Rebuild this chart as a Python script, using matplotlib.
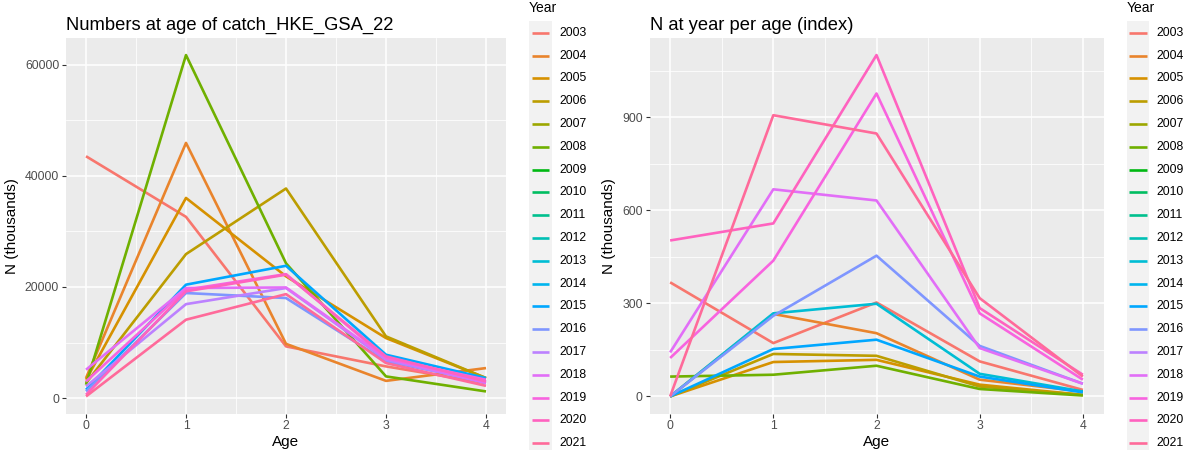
import numpy as np
import matplotlib
matplotlib.use("Agg")
import matplotlib.pyplot as plt
from matplotlib.patches import Rectangle
from matplotlib.ticker import MultipleLocator

plt.rcParams['font.family'] = ['Liberation Sans', 'DejaVu Sans']

# ---- data -------------------------------------------------------------
ages = [0, 1, 2, 3, 4]
years = list(range(2003, 2022))

# numbers at age of catch (thousands), by year
catch_years = [2003, 2004, 2005, 2006, 2008, 2015, 2016, 2017, 2018, 2019, 2020, 2021]
catch_2003 = [43500, 32600, 9300, 5700, 2700]
catch_2004 = [3600, 45900, 9760, 3100, 5400]
catch_2005 = [3300, 36000, 21900, 10800, 3600]
catch_2006 = [2700, 25900, 37700, 11100, 3600]
catch_2008 = [2400, 61700, 24250, 3900, 1200]
catch_2015 = [1500, 20400, 23800, 7800, 3600]
catch_2016 = [1200, 18900, 18000, 6600, 3000]
catch_2017 = [2100, 16900, 19800, 6900, 2700]
catch_2018 = [5100, 19800, 19900, 7200, 2800]
catch_2019 = [3000, 19500, 22300, 7200, 3300]
catch_2020 = [600, 19200, 22200, 7500, 3000]
catch_2021 = [300, 14100, 18700, 6300, 2200]
catch_vals = [catch_2003, catch_2004, catch_2005, catch_2006, catch_2008, catch_2015,
              catch_2016, catch_2017, catch_2018, catch_2019, catch_2020, catch_2021]

# N at year per age (index), by year
index_years = [2003, 2004, 2005, 2006, 2008, 2013, 2015, 2016, 2018, 2019, 2020, 2021]
index_2003 = [368, 172, 303, 113, 21]
index_2004 = [0, 266, 204, 54, 16]
index_2005 = [0, 111, 118, 38, 5]
index_2006 = [0, 137, 131, 32, 5]
index_2008 = [64, 70, 99, 24, 3]
index_2013 = [0, 268, 299, 73, 16]
index_2015 = [0, 153, 183, 64, 13]
index_2016 = [0, 260, 454, 163, 41]
index_2018 = [142, 668, 632, 156, 41]
index_2019 = [124, 438, 977, 268, 54]
index_2020 = [503, 558, 1101, 285, 70]
index_2021 = [0, 907, 848, 317, 64]
index_vals = [index_2003, index_2004, index_2005, index_2006, index_2008, index_2013,
              index_2015, index_2016, index_2018, index_2019, index_2020, index_2021]


# ---- ggplot hue palette -----------------------------------------------
def hcl_to_hex(h, c=100.0, l=65.0):
    xn, yn, zn = 95.047, 100.0, 108.883
    un = 4 * xn / (xn + 15 * yn + 3 * zn)
    vn = 9 * yn / (xn + 15 * yn + 3 * zn)
    u = c * np.cos(np.radians(h))
    v = c * np.sin(np.radians(h))
    Y = yn * ((l + 16) / 116) ** 3
    up = u / (13 * l) + un
    vp = v / (13 * l) + vn
    X = 9.0 * Y * up / (4 * vp)
    Z = -X / 3 - 5 * Y + 3 * Y / vp
    xyz = np.array([X, Y, Z]) / 100.0
    m = np.array([[3.240479, -1.537150, -0.498535],
                  [-0.969256, 1.875992, 0.041556],
                  [0.055648, -0.204043, 1.057311]])
    rgb = m @ xyz
    rgb = np.where(rgb > 0.00304, 1.055 * np.power(np.clip(rgb, 1e-9, None), 1 / 2.4) - 0.055, 12.92 * rgb)
    rgb = np.clip(rgb, 0, 1)
    return '#%02X%02X%02X' % tuple(int(round(x * 255)) for x in rgb)


hues = np.linspace(15, 375, len(years) + 1)[:-1]
year_colors = {y: hcl_to_hex(h) for y, h in zip(years, hues)}

# ---- figure -------------------------------------------------------------
W, H = 1186, 450
fig = plt.figure(figsize=(W / 100, H / 100), dpi=100)


def px_axes(x0, x1, y0, y1):
    return fig.add_axes([x0 / W, 1 - y1 / H, (x1 - x0) / W, (y1 - y0) / H])


def gg_style(ax, ymajor, yminor, vmax, vmin):
    ax.set_facecolor('#EBEBEB')
    for s in ax.spines.values():
        s.set_visible(False)
    ax.xaxis.set_major_locator(MultipleLocator(1))
    ax.xaxis.set_minor_locator(MultipleLocator(0.5))
    ax.yaxis.set_major_locator(MultipleLocator(ymajor))
    ax.yaxis.set_minor_locator(MultipleLocator(yminor))
    ax.grid(which='major', color='white', linewidth=1.1)
    ax.grid(which='minor', color='white', linewidth=0.55)
    ax.set_axisbelow(True)
    ax.tick_params(which='major', length=2.75, width=0.8, color='#333333',
                   labelcolor='#4D4D4D', labelsize=8.8, pad=2.2)
    ax.tick_params(which='minor', length=0)
    ax.set_xlim(-0.2, 4.2)
    rng = vmax - vmin
    ax.set_ylim(vmin - 0.05 * rng, vmax + 0.05 * rng)
    ax.set_xlabel('Age', fontsize=11, color='black', labelpad=2)
    ax.set_ylabel('N (thousands)', fontsize=11, color='black', labelpad=4)


ax1 = px_axes(66, 506, 38, 413.5)
for y, vals in zip(catch_years, catch_vals):
    ax1.plot(ages, vals, color=year_colors[y], linewidth=1.9, solid_capstyle='butt')
all1 = np.concatenate(catch_vals)
gg_style(ax1, 20000, 10000, all1.max(), all1.min())
ax1.set_title('Numbers at age of catch_HKE_GSA_22', loc='left', fontsize=13.2, pad=6)

ax2 = px_axes(649.5, 1103.5, 38, 413.5)
for y, vals in zip(index_years, index_vals):
    ax2.plot(ages, vals, color=year_colors[y], linewidth=1.9, solid_capstyle='butt')
all2 = np.concatenate(index_vals)
gg_style(ax2, 300, 150, all2.max(), all2.min())
ax2.set_title('N at year per age (index)', loc='left', fontsize=13.2, pad=6)

# ---- legends (ggplot style, drawn in pixel coordinates) -----------------
leg = fig.add_axes([0, 0, 1, 1], zorder=5)
leg.set_xlim(0, W)
leg.set_ylim(H, 0)
leg.axis('off')
leg.patch.set_alpha(0)

for kx in (529, 1126.5):
    leg.text(kx, 0.5, 'Year', fontsize=10, ha='left', va='top', color='black')
    step = (443.3 - 32.7) / (len(years) - 1)
    leg.add_patch(Rectangle((kx, 32.7 - step / 2), 22.5, step * len(years),
                            facecolor='#F2F2F2', edgecolor='none'))
    for i, y in enumerate(years):
        yy = 32.7 + i * step
        leg.plot([kx + 2.5, kx + 20], [yy, yy], color=year_colors[y], linewidth=1.9,
                 solid_capstyle='butt')
        leg.text(kx + 30, yy, str(y), fontsize=8.8, ha='left', va='center', color='black')

fig.savefig('out.png', dpi=100)
